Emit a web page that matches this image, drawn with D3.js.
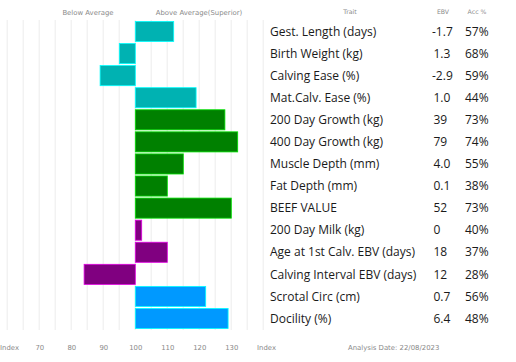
<!DOCTYPE html>
<html>
<head>
<meta charset="utf-8">
<script src="https://cdn.jsdelivr.net/npm/d3@7"></script>
<style>
  body { margin: 0; background: #fff; }
  svg { display: block; }
</style>
</head>
<body>
<div id="chart"></div>
<script>
// Data
const traits = ["Gest. Length (days)", "Birth Weight (kg)", "Calving Ease (%)", "Mat.Calv. Ease (%)",
  "200 Day Growth (kg)", "400 Day Growth (kg)", "Muscle Depth (mm)", "Fat Depth (mm)", "BEEF VALUE",
  "200 Day Milk (kg)", "Age at 1st Calv. EBV (days)", "Calving Interval EBV (days)", "Scrotal Circ (cm)", "Docility (%)"];
const indexValues = [112, 95, 89, 119, 128, 132, 115, 110, 130, 102, 110, 84, 122, 129];
const ebv = ["-1.7", "1.3", "-2.9", "1.0", "39", "79", "4.0", "0.1", "52", "0", "18", "12", "0.7", "6.4"];
const acc = ["57%", "68%", "59%", "44%", "73%", "74%", "55%", "38%", "73%", "40%", "37%", "28%", "56%", "48%"];
const groups = ["calving", "calving", "calving", "calving", "growth", "growth", "growth", "growth", "growth",
  "fertility", "fertility", "fertility", "other", "other"];
const tickValues = [70, 80, 90, 100, 110, 120, 130];

const width = 516, height = 362;

const svg = d3.select("#chart")
    .append("svg")
    .attr("width", width)
    .attr("height", height);

// Scales
const x = d3.scaleLinear()
    .domain([60, 140])
    .range([7.3, 263.3]);

const y = d3.scaleBand()
    .domain(traits)
    .range([21, 329])
    .paddingInner(0.09)
    .paddingOuter(0.02);

const color = d3.scaleOrdinal()
    .domain(["calving", "growth", "fertility", "other"])
    .range(["#00b2b2", "#008000", "#800080", "#0099ff"]);

// Grid lines every 5 index points
svg.append("g")
    .selectAll("line")
    .data(d3.range(60, 141, 5))
    .enter()
    .append("line")
    .attr("x1", d => x(d))
    .attr("x2", d => x(d))
    .attr("y1", 20)
    .attr("y2", 330)
    .attr("stroke", "#f2f2f2")
    .attr("stroke-width", 1.5);

// Bars
const data = traits.map((t, i) => ({trait: t, value: indexValues[i], group: groups[i]}));

svg.append("g")
    .selectAll("rect")
    .data(data)
    .enter()
    .append("rect")
    .attr("x", d => x(Math.min(100, d.value)))
    .attr("y", d => y(d.trait))
    .attr("width", d => Math.abs(x(d.value) - x(100)))
    .attr("height", y.bandwidth())
    .attr("fill", d => color(d.group))
    .attr("stroke", d => d3.color(color(d.group)).brighter(1.6))
    .attr("stroke-width", 0.8);

// Top headers
const small = {family: "DejaVu Sans, Verdana, sans-serif", size: "6.9px", fill: "#8a8a8a"};
[["Below Average", 88], ["Above Average(Superior)", 199]].forEach(([t, cx]) => {
    svg.append("text")
        .attr("x", cx)
        .attr("y", 15)
        .attr("text-anchor", "middle")
        .style("font-family", small.family)
        .style("font-size", small.size)
        .attr("fill", small.fill)
        .text(t);
});

// Bottom axis labels
const axis = svg.append("g")
    .attr("transform", "translate(0,350)")
    .call(d3.axisBottom(x).tickValues(tickValues).tickSize(0).tickPadding(0));
axis.select(".domain").remove();
axis.selectAll("text")
    .attr("dy", 0)
    .style("font-family", small.family)
    .style("font-size", small.size)
    .attr("fill", small.fill);

[["Index", 0, "start"], ["Index", 257, "start"]].forEach(([t, px, anchor]) => {
    svg.append("text")
        .attr("x", px)
        .attr("y", 350)
        .attr("text-anchor", anchor)
        .style("font-family", small.family)
        .style("font-size", small.size)
        .attr("fill", small.fill)
        .text(t);
});

svg.append("text")
    .attr("x", 348)
    .attr("y", 350)
    .style("font-family", small.family)
    .style("font-size", small.size)
    .attr("fill", small.fill)
    .text("Analysis Date: 22/08/2023");

// Table headers
[["Trait", 350, "middle"], ["EBV", 443, "middle"], ["Acc %", 477, "middle"]].forEach(([t, px, anchor]) => {
    svg.append("text")
        .attr("x", px)
        .attr("y", 14)
        .attr("text-anchor", anchor)
        .style("font-family", small.family)
        .style("font-size", "6.2px")
        .attr("fill", small.fill)
        .text(t);
});

// Table rows
const rowFont = "'Open Sans', sans-serif";
const rows = svg.append("g")
    .selectAll("g")
    .data(data)
    .enter()
    .append("g")
    .attr("transform", d => `translate(0,${y(d.trait) + y.bandwidth() / 2})`);

rows.append("text")
    .attr("x", 270)
    .attr("dy", "0.35em")
    .style("font-family", rowFont)
    .style("font-size", "12px")
    .attr("fill", "#1a1a1a")
    .text(d => d.trait);

rows.append("text")
    .attr("x", (d, i) => ebv[i].startsWith("-") ? 432 : 433.5)
    .attr("dy", "0.35em")
    .style("font-family", rowFont)
    .style("font-size", "12px")
    .attr("fill", "#1a1a1a")
    .text((d, i) => ebv[i]);

rows.append("text")
    .attr("x", 465)
    .attr("dy", "0.35em")
    .style("font-family", rowFont)
    .style("font-size", "12px")
    .attr("fill", "#1a1a1a")
    .text((d, i) => acc[i]);
</script>
</body>
</html>
